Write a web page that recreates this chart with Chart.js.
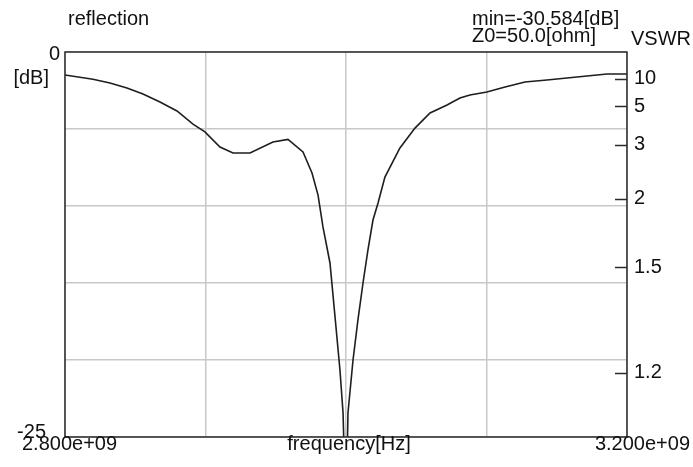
<!DOCTYPE html>
<html>
<head>
<meta charset="utf-8">
<script src="https://cdn.jsdelivr.net/npm/chart.js@4.4.1/dist/chart.umd.min.js"></script>
<style>
  html,body{margin:0;padding:0;background:#fff;}
  #host{position:relative;width:693px;height:467px;}
</style>
</head>
<body>
<div id="host"><canvas id="c"></canvas></div>
<script>
// frequency in GHz, reflection in dB
const freqGHz = [2.8000, 2.8199, 2.8320, 2.8441, 2.8555, 2.8676, 2.8797, 2.8911, 2.8996, 2.9103,
  2.9196, 2.9317, 2.9480, 2.9587, 2.9694, 2.9758, 2.9801, 2.9836, 2.9886, 2.9922,
  2.9957, 2.9979, 3.0000, 3.0014, 3.0050, 3.0085, 3.0121, 3.0156, 3.0192, 3.0228,
  3.0277, 3.0384, 3.0491, 3.0598, 3.0719, 3.0811, 3.0882, 3.1003, 3.1132, 3.1274,
  3.1430, 3.1573, 3.1715, 3.1858, 3.2000];
const reflDb = [-1.49, -1.77, -2.01, -2.34, -2.73, -3.25, -3.83, -4.68, -5.19, -6.17,
  -6.56, -6.56, -5.84, -5.68, -6.49, -7.86, -9.29, -11.36, -13.70, -17.21,
  -20.65, -23.44, -30.584, -23.44, -20.0, -17.40, -15.0, -12.86, -10.91, -9.81,
  -8.12, -6.23, -4.94, -3.96, -3.44, -2.99, -2.79, -2.60, -2.27, -1.95,
  -1.82, -1.69, -1.56, -1.43, -1.43];
const vswrTicks = [10, 5, 3, 2, 1.5, 1.2];
const vswrLabels = ['10', '5', '3', '2', '1.5', '1.2'];
const dbRange = [-25, 0];
const freqRange = [2.8, 3.2];

const FONT = '20px "Liberation Sans", Arial, sans-serif';
const vswrToDb = s => 20*Math.log10((s-1)/(s+1));

const Frame = {
  id:'frame',
  afterDraw(chart){
    const {left, right, top, bottom} = chart.chartArea;
    const ctx = chart.ctx;
    ctx.save();
    ctx.strokeStyle = '#2b2b2b'; ctx.lineWidth = 1.5;
    ctx.strokeRect(left, top, right-left, bottom-top);
    // inward VSWR ticks
    const y2 = chart.scales.y2;
    y2.ticks.forEach(t=>{
      const y = Math.round(y2.getPixelForValue(t.value))+0.5;
      ctx.beginPath(); ctx.moveTo(right-12, y); ctx.lineTo(right, y); ctx.stroke();
    });
    ctx.fillStyle = '#111'; ctx.font = FONT;
    ctx.textBaseline = 'alphabetic';
    ctx.textAlign = 'left';
    ctx.fillText('reflection', left+3, 25);
    ctx.fillText('min=' + Math.min(...reflDb).toFixed(3) + '[dB]', 472, 25);
    ctx.fillText('Z0=50.0[ohm]', 472, 42);
    ctx.fillText('VSWR', right+4, 45);
    ctx.textAlign = 'right';
    ctx.fillText(String(dbRange[1]), left-5, top+8);
    ctx.fillText('[dB]', left-16, top+32);
    ctx.fillText(String(dbRange[0]), left-19, bottom+1);
    ctx.textAlign = 'left';
    ctx.fillText(freqRange[0].toFixed(3)+'e+09', 22, 450);
    ctx.textAlign = 'center';
    ctx.fillText('frequency[Hz]', (left+right)/2 + 3, 450);
    ctx.textAlign = 'right';
    ctx.fillText(freqRange[1].toFixed(3)+'e+09', 690, 450);
    ctx.restore();
  }
};

new Chart(document.getElementById('c').getContext('2d'), {
  type:'line',
  data:{datasets:[{
    data: freqGHz.map((f,i)=>({x:f, y:reflDb[i]})),
    borderColor:'#1e1e1e', borderWidth:1.6, pointRadius:0, tension:0, fill:false
  }]},
  options:{
    responsive:true, maintainAspectRatio:false, animation:false,
    layout:{padding:{left:65, top:52, right:0, bottom:0}},
    plugins:{legend:{display:false}, tooltip:{enabled:false}},
    scales:{
      x:{type:'linear', min:freqRange[0], max:freqRange[1],
        ticks:{display:false, stepSize:0.1},
        grid:{color:'#c8c8c8', lineWidth:1.5, drawTicks:false},
        border:{display:false},
        afterFit:s=>{ s.height = 30; }},
      y:{min:dbRange[0], max:dbRange[1],
        ticks:{display:false, stepSize:5},
        grid:{color:'#c8c8c8', lineWidth:1.5, drawTicks:false},
        border:{display:false},
        afterFit:s=>{ s.width = 0; }},
      y2:{position:'right', min:dbRange[0], max:dbRange[1],
        afterBuildTicks:s=>{ s.ticks = vswrTicks.map(v=>({value:vswrToDb(v)})); },
        ticks:{color:'#111', font:{family:'"Liberation Sans", Arial, sans-serif', size:20},
          padding:7, callback:(v,i)=>vswrLabels[i]},
        grid:{drawOnChartArea:false, drawTicks:false},
        border:{display:false},
        afterFit:s=>{ s.width = 66; }}
    }
  },
  plugins:[Frame]
});
</script>
</body>
</html>
